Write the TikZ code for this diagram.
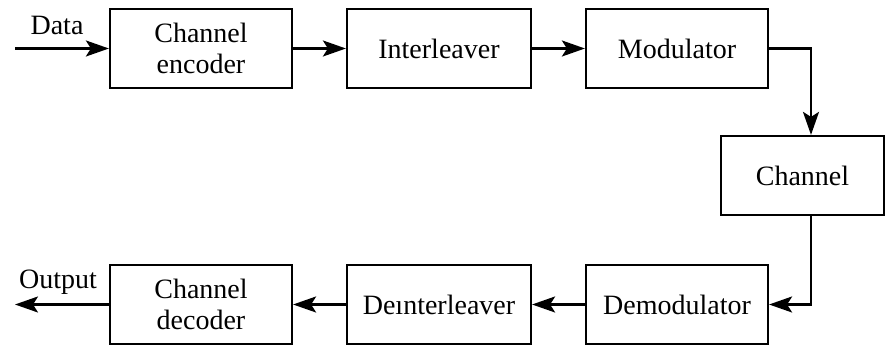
\documentclass[tikz,border=0pt]{standalone}
\usepackage{fontspec}
\setmainfont{Liberation Serif}
\usetikzlibrary{arrows.meta}
\begin{document}
\begin{tikzpicture}[x=1pt,y=1pt,
  block/.style={draw, line width=2.2pt, minimum height=79pt, inner sep=0pt,
    align=center, font=\fontsize{28}{31}\selectfont},
  flow/.style={line width=2.2pt, -{Stealth[length=23pt,width=16pt,inset=5pt]}},
  lbl/.style={font=\fontsize{28}{31}\selectfont, inner sep=0pt}]
\useasboundingbox (0,0) rectangle (886,347);
% transmit chain
\node[block, minimum width=182pt] (enc) at (201,298.5) {Channel\\encoder};
\node[block, minimum width=184pt] (intl) at (439,298.5) {Interleaver};
\node[block, minimum width=182pt] (mod) at (677,298.5) {Modulator};
% channel
\node[block, minimum width=163pt] (chan) at (802.5,171.5) {Channel};
% receive chain
\node[block, minimum width=182pt] (demod) at (677,42.5) {Demodulator};
\node[block, minimum width=184pt] (deintl) at (439,42.5) {Deınterleaver};
\node[block, minimum width=182pt] (dec) at (201,42.5) {Channel\\decoder};
% open ends
\coordinate (in) at (15,298.5);
\coordinate (out) at (15,42.5);
\node[lbl] (datalbl) at (57,322) {Data};
\node[lbl] (outlbl) at (58,65) {Output};
% connectors
\draw[flow] (in) -- (enc);
\draw[flow] (enc) -- (intl);
\draw[flow] (intl) -- (mod);
\draw[flow] (mod.east) -| (811,0 |- chan.north);
\draw[flow] (chan.south -| 811,0) |- (demod.east);
\draw[flow] (demod) -- (deintl);
\draw[flow] (deintl) -- (dec);
\draw[flow] (dec) -- (out);
\end{tikzpicture}
\end{document}
